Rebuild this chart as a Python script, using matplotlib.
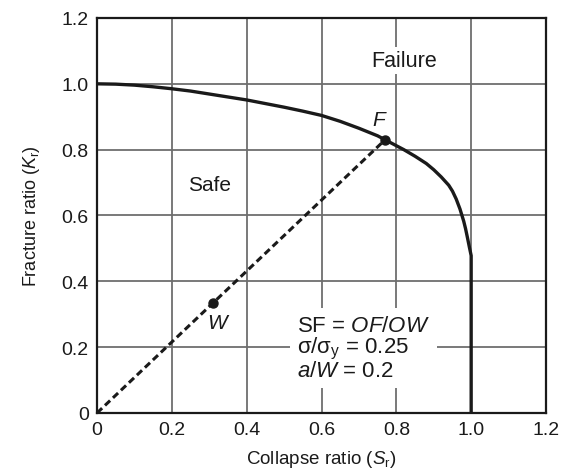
import matplotlib
matplotlib.use("Agg")
import matplotlib.pyplot as plt

plt.rcParams['font.family'] = ['Liberation Sans', 'DejaVu Sans']
plt.rcParams['mathtext.fontset'] = 'custom'
plt.rcParams['mathtext.rm'] = 'Liberation Sans'
plt.rcParams['mathtext.it'] = 'Liberation Sans:italic'

# failure assessment curve
sr_curve = [0, 0.05, 0.1, 0.15, 0.2, 0.25, 0.3, 0.35, 0.4, 0.45, 0.5, 0.55,
            0.6, 0.65, 0.7, 0.75, 0.77, 0.8, 0.82, 0.85, 0.88, 0.9, 0.92,
            0.94, 0.95, 0.96, 0.97, 0.98, 0.985, 0.99, 0.995, 1.0, 1.0]
kr_curve = [1.0, 0.999, 0.996, 0.991, 0.985, 0.978, 0.969, 0.96, 0.951, 0.94,
            0.929, 0.917, 0.904, 0.886, 0.865, 0.842, 0.83, 0.812, 0.80, 0.78,
            0.758, 0.739, 0.717, 0.692, 0.674, 0.65, 0.62, 0.583, 0.56, 0.533,
            0.505, 0.478, 0.0]

# load line O -> F, and the working point W
point_f = (0.77, 0.83)
point_w = (0.31, 0.334)

ticks = [0, 0.2, 0.4, 0.6, 0.8, 1.0, 1.2]
tick_labels = ['0', '0.2', '0.4', '0.6', '0.8', '1.0', '1.2']

ink = '#1a1a1a'

fig = plt.figure(figsize=(5.63, 4.77), dpi=100)
ax = fig.add_axes([0.1723, 0.1321, 0.7975, 0.8281])

ax.grid(True, color='#6e6e6e', linewidth=1.3, zorder=0)
ax.set_axisbelow(True)

ax.plot(sr_curve, kr_curve, color=ink, linewidth=2.4, zorder=3,
        solid_joinstyle='round')
ax.plot([0, point_f[0]], [0, point_f[1]], color=ink, linewidth=2.2,
        linestyle=(0, (2.3, 1.3)), zorder=3)
ax.plot([point_f[0], point_w[0]], [point_f[1], point_w[1]], 'o', color=ink,
        markersize=6.5, linestyle='none', zorder=4)

box = dict(facecolor='white', edgecolor='none', pad=2)
ax.text(0.82, 1.07, 'Failure', fontsize=15.5, color=ink, ha='center',
        va='center', bbox=box, zorder=2)
ax.text(0.30, 0.694, 'Safe', fontsize=15, color=ink, ha='center',
        va='center', bbox=box, zorder=2)
ax.text(0.757, 0.891, '$F$', fontsize=15, color=ink, ha='center',
        va='center', zorder=2)
ax.text(0.326, 0.274, '$W$', fontsize=15, color=ink, ha='center',
        va='center', zorder=2)
ax.text(0.535, 0.197,
        'SF = $OF/OW$\n' + r'σ/σ$_\mathrm{y}$ = 0.25' + '\n' + '$a/W$ = 0.2',
        fontsize=16, color=ink, ha='left', va='center', linespacing=0.95,
        bbox=dict(facecolor='white', edgecolor='none', pad=5), zorder=2)

ax.set_xlim(0, 1.2)
ax.set_ylim(0, 1.2)
ax.set_xticks(ticks)
ax.set_xticklabels(tick_labels)
ax.set_yticks(ticks)
ax.set_yticklabels(tick_labels)
ax.tick_params(direction='in', length=0, labelsize=14, labelcolor=ink, pad=6)

for s in ax.spines.values():
    s.set_linewidth(1.6)
    s.set_color(ink)

ax.set_xlabel('Collapse ratio ($S_\\mathrm{r}$)', fontsize=13.5, color=ink,
              labelpad=7)
ax.set_ylabel('Fracture ratio ($K_\\mathrm{r}$)', fontsize=13, color=ink,
              labelpad=14)

fig.savefig('out.png', dpi=100)
